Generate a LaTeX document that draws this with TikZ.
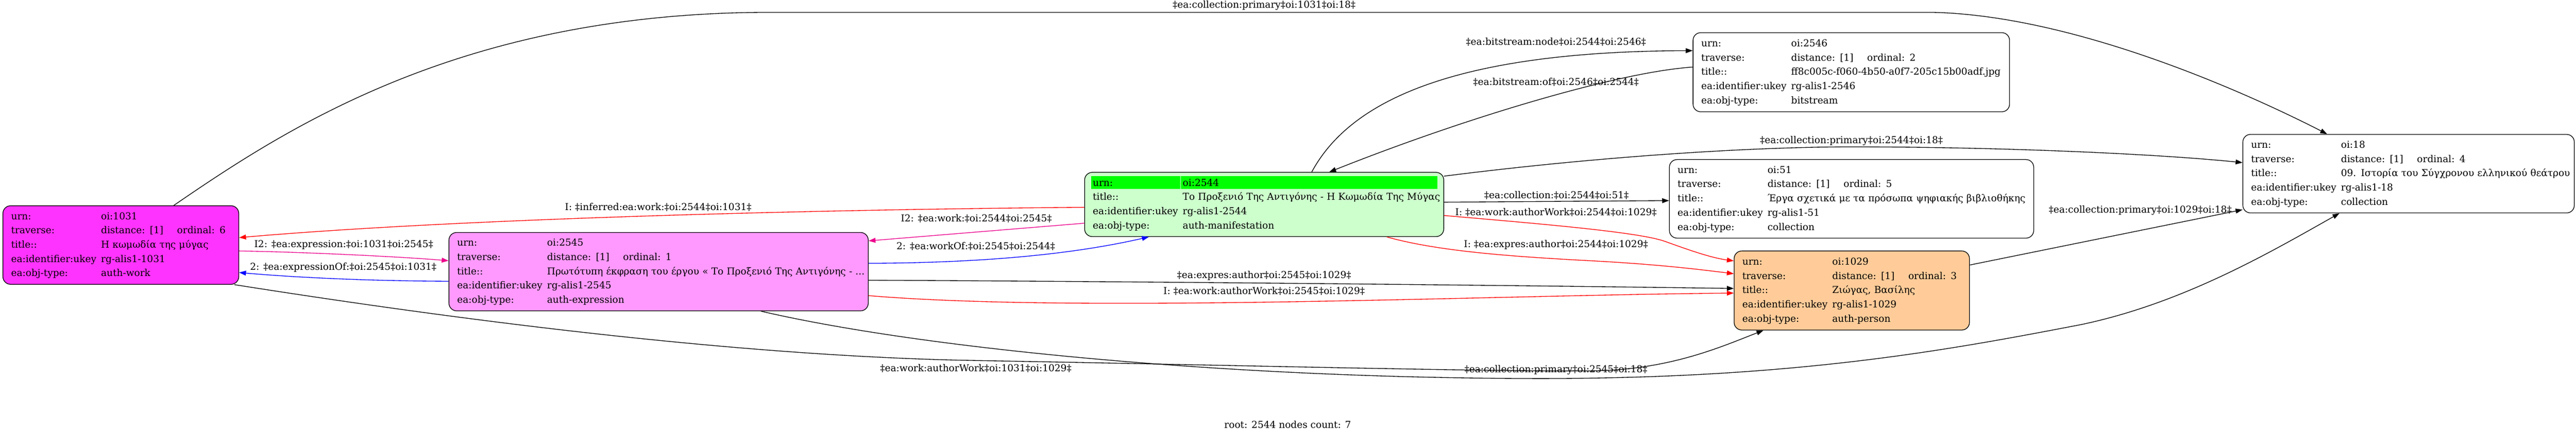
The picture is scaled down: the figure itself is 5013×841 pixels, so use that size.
\documentclass[tikz,border=0pt]{standalone}
\usepackage{fontspec}
\setmainfont{DejaVu Serif}
\usetikzlibrary{arrows.meta}
\definecolor{workpink}{RGB}{255,51,255}
\definecolor{exprpink}{RGB}{255,153,255}
\definecolor{manigreen}{RGB}{204,255,204}
\definecolor{urngreen}{RGB}{0,255,0}
\definecolor{persorange}{RGB}{255,204,153}
\newcommand{\gvfont}{\fontsize{9.3}{13.9}\selectfont}
\newcommand{\travcell}[1]{\makebox[74pt][l]{distance: [1]}ordinal: #1}
\tikzstyle{objbox}=[rectangle, rounded corners=7.5pt, draw=black, line width=0.65pt, fill=white, inner xsep=8pt, inner ysep=0pt, align=left, anchor=north west, font=\gvfont]
\tikzstyle{workbox}=[objbox, fill=workpink]
\tikzstyle{exprbox}=[objbox, fill=exprpink]
\tikzstyle{persbox}=[objbox, fill=persorange]
\tikzstyle{manibox}=[objbox, fill=manigreen, path picture={
 \fill[urngreen, sharp corners] ([xshift=6.6pt,yshift=-3.85pt]path picture bounding box.north west) rectangle ([xshift=93pt,yshift=-16.15pt]path picture bounding box.north west);
 \fill[urngreen, sharp corners] ([xshift=93.8pt,yshift=-3.85pt]path picture bounding box.north west) rectangle ([xshift=343.2pt,yshift=-16.15pt]path picture bounding box.north west);}]
\tikzstyle{elab}=[font=\gvfont, inner sep=0pt]
\tikzstyle{kline}=[-{Triangle[length=6.7pt,width=4.7pt]}, line width=0.67pt, black]
\tikzstyle{rline}=[kline, red]
\tikzstyle{mline}=[kline, magenta]
\tikzstyle{uline}=[kline, blue]
\begin{document}
\begin{tikzpicture}[x=0.5pt, y=-0.5pt]
\path[use as bounding box, fill=white] (0,0) rectangle (5013,841);
\node (WORK) [workbox, text width=213.5pt, minimum height=76.5pt] at (5,400) {\begin{tabular}{@{}p{87.5pt}@{}l@{}}
urn: & oi:1031\\
traverse: & \travcell{6}\\
title:: & Η κωμωδία της μύγας\\
ea:identifier:ukey & rg-alis1-1031\\
ea:obj-type: & auth-work
\end{tabular}};
\node (EXPR) [exprbox, text width=392pt, minimum height=76.3pt] at (873,452) {\begin{tabular}{@{}p{87.5pt}@{}l@{}}
urn: & oi:2545\\
traverse: & \travcell{1}\\
title:: & Πρωτότυπη έκφραση του έργου « Το Προξενιό Της Αντιγόνης - ...\\
ea:identifier:ukey & rg-alis1-2545\\
ea:obj-type: & auth-expression
\end{tabular}};
\node (MANI) [manibox, text width=333.5pt, minimum height=62.5pt] at (2110,335) {\begin{tabular}{@{}p{87.5pt}@{}l@{}}
urn: & oi:2544\\
title:: & Το Προξενιό Της Αντιγόνης - Η Κωμωδία Της Μύγας\\
ea:identifier:ukey & rg-alis1-2544\\
ea:obj-type: & auth-manifestation
\end{tabular}};
\node (BITS) [objbox, text width=292pt, minimum height=77pt] at (3294,63) {\begin{tabular}{@{}p{87.5pt}@{}l@{}}
urn: & oi:2546\\
traverse: & \travcell{2}\\
title:: & ff8c005c-f060-4b50-a0f7-205c15b00adf.jpg\\
ea:identifier:ukey & rg-alis1-2546\\
ea:obj-type: & bitstream
\end{tabular}};
\node (COLL51) [objbox, text width=338.5pt, minimum height=76.5pt] at (3248,310) {\begin{tabular}{@{}p{87.5pt}@{}l@{}}
urn: & oi:51\\
traverse: & \travcell{5}\\
title:: & Έργα σχετικά με τα πρόσωπα ψηφιακής βιβλιοθήκης\\
ea:identifier:ukey & rg-alis1-51\\
ea:obj-type: & collection
\end{tabular}};
\node (PERS) [persbox, text width=213pt, minimum height=77pt] at (3374,488) {\begin{tabular}{@{}p{87.5pt}@{}l@{}}
urn: & oi:1029\\
traverse: & \travcell{3}\\
title:: & Ζιώγας, Βασίλης\\
ea:identifier:ukey & rg-alis1-1029\\
ea:obj-type: & auth-person
\end{tabular}};
\node (COLL18) [objbox, text width=306.5pt, minimum height=76.5pt] at (4364,261) {\begin{tabular}{@{}p{87.5pt}@{}l@{}}
urn: & oi:18\\
traverse: & \travcell{4}\\
title:: & 09. Ιστορία του Σύγχρονου ελληνικού θεάτρου\\
ea:identifier:ukey & rg-alis1-18\\
ea:obj-type: & collection
\end{tabular}};
\node (LPRIM1031) [elab] at (2460,11) {‡ea:collection:primary‡oi:1031‡oi:18‡};
\node (LAUTH1031) [elab] at (1899,717) {‡ea:work:authorWork‡oi:1031‡oi:1029‡};
\node (LEXPR) [elab] at (669,477) {I2: ‡ea:expression:‡oi:1031‡oi:2545‡};
\node (LEXPROF) [elab] at (668,521) {2: ‡ea:expressionOf:‡oi:2545‡oi:1031‡};
\node (LINFWORK) [elab] at (1281,403) {I: ‡inferred:ea:work:‡oi:2544‡oi:1031‡};
\node (LWORK) [elab] at (1900,425) {I2: ‡ea:work:‡oi:2544‡oi:2545‡};
\node (LWORKOF) [elab] at (1899,480) {2: ‡ea:workOf:‡oi:2545‡oi:2544‡};
\node (LEAUTH2545) [elab] at (2460,537) {‡ea:expres:author‡oi:2545‡oi:1029‡};
\node (LIAUTH2545) [elab] at (2460,567) {I: ‡ea:work:authorWork‡oi:2545‡oi:1029‡};
\node (LPRIM2545) [elab] at (3028,720) {‡ea:collection:primary‡oi:2545‡oi:18‡};
\node (LBSNODE) [elab] at (3028,82) {‡ea:bitstream:node‡oi:2544‡oi:2546‡};
\node (LBSOF) [elab] at (3028,160) {‡ea:bitstream:of‡oi:2546‡oi:2544‡};
\node (LPRIM2544) [elab] at (3603,274) {‡ea:collection:primary‡oi:2544‡oi:18‡};
\node (LCOLL2544) [elab] at (3029,380) {‡ea:collection:‡oi:2544‡oi:51‡};
\node (LIWORK2544) [elab] at (3028,413) {I: ‡ea:work:authorWork‡oi:2544‡oi:1029‡};
\node (LIEXPR2544) [elab] at (3028,477) {I: ‡ea:expres:author‡oi:2544‡oi:1029‡};
\node (LPRIM1029) [elab] at (4165,410) {‡ea:collection:primary‡oi:1029‡oi:18‡};
\node (ROOT) [elab] at (2506,827) {root: 2544 nodes count: 7};
\draw[kline] ([xshift=51.5pt]WORK.north) .. controls (560,248) and (900,24) .. (1500,24) -- (3759,24) .. controls (4050,30) and (4400,195) .. ([xshift=-79.25pt]COLL18.north);
\draw[kline] ([xshift=-4.5pt]WORK.south east) .. controls (1000,640) and (1500,695) .. (1899,702) .. controls (2400,711) and (2900,724) .. (3100,722) .. controls (3250,720) and (3350,675) .. ([xshift=-86pt]PERS.south);
\draw[mline] ([yshift=-5.75pt]WORK.east) .. controls (600,491) and (780,500) .. ([yshift=10.65pt]EXPR.west);
\draw[uline] ([yshift=-9.35pt]EXPR.west) .. controls (700,547) and (560,539) .. ([yshift=-26.75pt]WORK.east);
\draw[rline] ([yshift=-2.75pt]MANI.west) .. controls (1600,408) and (900,425) .. ([yshift=7.25pt]WORK.east);
\draw[mline] ([yshift=-18.25pt]MANI.west) -- ([yshift=-8.5pt]EXPR.north east);
\draw[uline] ([yshift=8.15pt]EXPR.east) .. controls (1900,512) and (2080,497) .. ([xshift=-112.25pt]MANI.south);
\draw[kline] ([yshift=-8.35pt]EXPR.east) .. controls (2200,548) and (2900,555) .. ([yshift=2pt]PERS.west);
\draw[rline] ([yshift=-23.35pt]EXPR.east) .. controls (2100,610) and (2900,575) .. ([yshift=-2.5pt]PERS.west);
\draw[kline] ([xshift=99.5pt]EXPR.south) .. controls (1800,680) and (2400,737) .. (3000,737) .. controls (3500,737) and (3800,680) .. (4050,632) .. controls (4250,590) and (4420,490) .. ([xshift=-67.25pt]COLL18.south);
\draw[kline] ([xshift=46.25pt]MANI.north) .. controls (2620,210) and (2800,100) .. ([yshift=21pt]BITS.west);
\draw[kline] ([yshift=5pt]BITS.west) .. controls (3150,140) and (2850,230) .. ([xshift=63.25pt]MANI.north);
\draw[kline] ([yshift=-4pt]MANI.north east) .. controls (3100,306) and (3400,286) .. (3603,286) .. controls (3900,286) and (4200,300) .. ([yshift=10.75pt]COLL18.west);
\draw[kline] ([yshift=2.25pt]MANI.east) -- ([yshift=-1.75pt]COLL51.west);
\draw[rline] ([yshift=-10.75pt]MANI.east) .. controls (3000,436) and (3190,452) .. (3240,470) .. controls (3290,488) and (3330,502) .. ([yshift=-10pt]PERS.north west);
\draw[rline] ([xshift=119.25pt]MANI.south) .. controls (2800,490) and (2950,500) .. (3100,508) .. controls (3230,515) and (3310,525) .. ([yshift=-22.5pt]PERS.north west);
\draw[kline] ([yshift=-14pt]PERS.north east) -- ([yshift=3.5pt]COLL18.south west);
\end{tikzpicture}
\end{document}
